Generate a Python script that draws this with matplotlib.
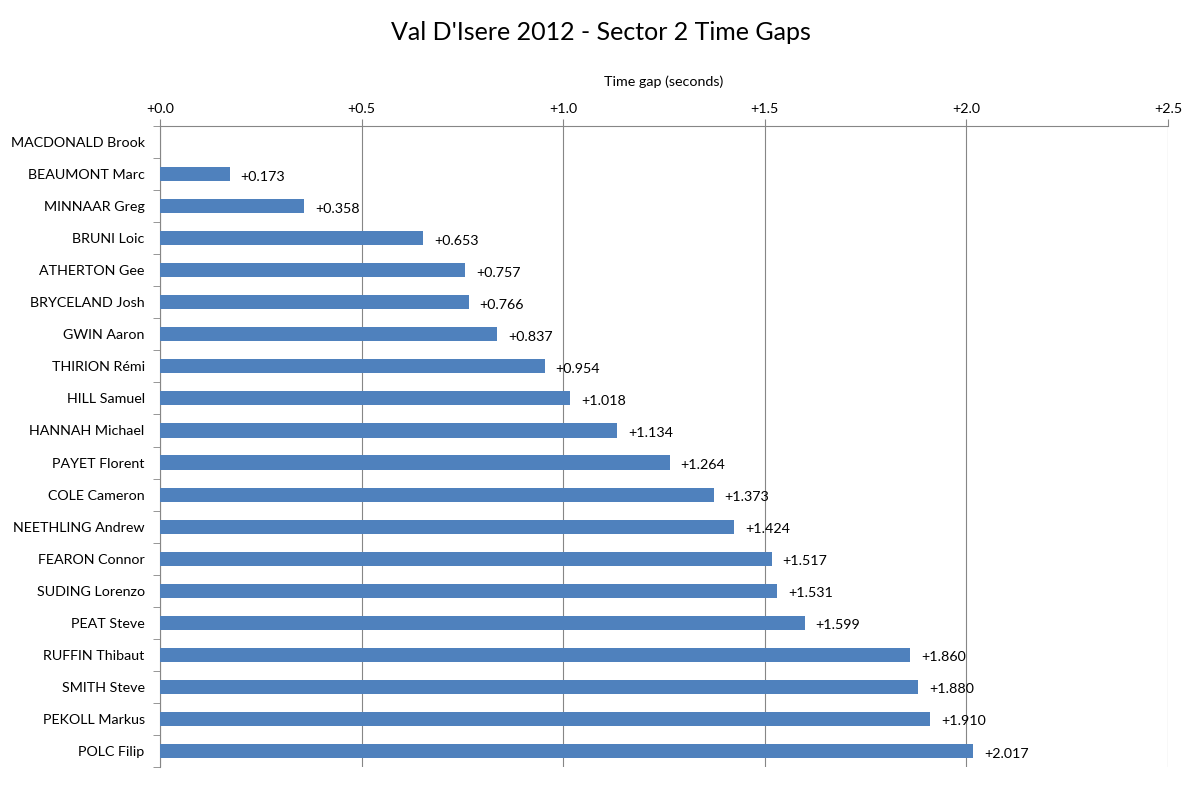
import matplotlib
matplotlib.use("Agg")
import matplotlib.pyplot as plt
from matplotlib.ticker import FixedLocator, NullFormatter

# ── data ──────────────────────────────────────────────────────────────────────
riders = [
    "MACDONALD Brook", "BEAUMONT Marc", "MINNAAR Greg", "BRUNI Loic",
    "ATHERTON Gee", "BRYCELAND Josh", "GWIN Aaron", "THIRION Rémi",
    "HILL Samuel", "HANNAH Michael", "PAYET Florent", "COLE Cameron",
    "NEETHLING Andrew", "FEARON Connor", "SUDING Lorenzo", "PEAT Steve",
    "RUFFIN Thibaut", "SMITH Steve", "PEKOLL Markus", "POLC Filip",
]
gaps = [
    0.0, 0.173, 0.358, 0.653, 0.757, 0.766, 0.837, 0.954, 1.018, 1.134,
    1.264, 1.373, 1.424, 1.517, 1.531, 1.599, 1.860, 1.880, 1.910, 2.017,
]
x_ticks = [0.0, 0.5, 1.0, 1.5, 2.0, 2.5]

BAR = "#4F81BD"
GRID = "#868686"
FS = 10.3
plt.rcParams["font.family"] = ["Lato", "DejaVu Sans"]

# ── plot ──────────────────────────────────────────────────────────────────────
fig = plt.figure(figsize=(12.01, 7.85), dpi=100)
ax = fig.add_axes([160 / 1201, 1 - 767 / 785, 1008 / 1201, 641 / 785])

y = list(range(len(riders)))
ax.barh(y, gaps, height=0.44, color=BAR, zorder=3)
for yi, g in zip(y, gaps):
    if g > 0:
        ax.text(g + 0.027, yi + 0.08, f"+{g:.3f}", fontsize=FS,
                va="center", ha="left", color="black")

ax.set_xlim(0, 2.5)
ax.set_ylim(len(riders) - 0.5, -0.5)

ax.xaxis.tick_top()
ax.xaxis.set_label_position("top")
ax.set_xticks(x_ticks)
ax.set_xticklabels([f"+{t:.1f}" for t in x_ticks], fontsize=FS)
ax.set_xlabel("Time gap (seconds)", fontsize=FS, labelpad=12)
ax.tick_params(axis="x", length=5, color=GRID, pad=3)
ax.grid(axis="x", color=GRID, linewidth=0.8, zorder=0)

ax.set_yticks(y)
ax.set_yticklabels(riders, fontsize=FS)
ax.tick_params(axis="y", length=0, pad=11)
ax.yaxis.set_minor_locator(FixedLocator([i - 0.5 for i in range(len(riders) + 1)]))
ax.yaxis.set_minor_formatter(NullFormatter())
ax.tick_params(axis="y", which="minor", length=5, color=GRID)

for side in ("right", "bottom"):
    ax.spines[side].set_visible(False)
for side in ("top", "left"):
    ax.spines[side].set_color(GRID)
    ax.spines[side].set_linewidth(0.8)

fig.text(0.5, 1 - 32 / 785, "Val D'Isere 2012 - Sector 2 Time Gaps",
         ha="center", va="center", fontsize=18)

fig.savefig("out.png", dpi=100)
